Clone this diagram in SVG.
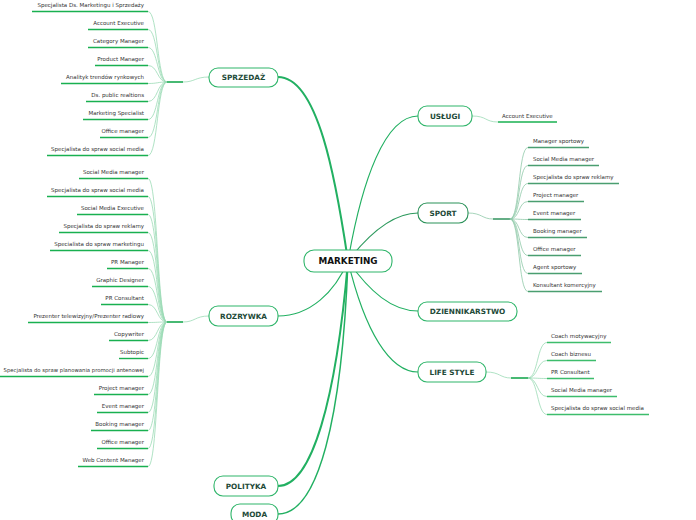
<svg xmlns="http://www.w3.org/2000/svg" width="696" height="520" viewBox="0 0 696 520">
<style>
.node{fill:#fff;stroke:#2fb56a;stroke-width:1.1}
.nt{font-family:"DejaVu Sans",Verdana,sans-serif;font-weight:bold;font-size:7.3px;fill:#1e4a38;text-anchor:middle}
.root{font-family:"DejaVu Sans",Verdana,sans-serif;font-weight:bold;font-size:8.8px;fill:#111;text-anchor:middle}
.lt{font-family:"DejaVu Sans",Verdana,sans-serif;font-size:5.5px;fill:#333}
.r{text-anchor:end}
.ul{stroke:#19b050;stroke-width:1.4;fill:none}
.uls{stroke:#4a9e70;stroke-width:1.4;fill:none}
.ull{stroke:#3dbd6c;stroke-width:1.4;fill:none}
.br{stroke:#9adbb5;stroke-width:0.8;fill:none}
.brs{stroke:#8fc9a8;stroke-width:0.8;fill:none}
.hub{stroke:#19a850;stroke-width:1.6;fill:none}
.hubs{stroke:#3f9a68;stroke-width:1.6;fill:none}
.main{stroke:#22b062;fill:none}
</style>
<g id="connectors">
<path class="main" stroke-width="2" d="M348,261 C336,180 318,77 278,77"/>
<path class="main" stroke-width="1.1" d="M348,261 C335,292 310,316 278,316"/>
<path class="main" stroke-width="2" d="M348,261 C336,400 312,486 278,486"/>
<path class="main" stroke-width="1.5" d="M348,261 C342,420 318,514 278,514"/>
<path class="main" stroke-width="1.2" d="M348,261 C362,180 385,116 418,116"/>
<path stroke="#2e9a5e" fill="none" stroke-width="1.2" d="M348,261 C372,230 395,213 418,213"/>
<path class="main" stroke-width="1.1" d="M348,261 C370,292 392,311 418,311"/>
<path class="main" stroke-width="1.1" d="M348,261 C365,332 390,372 418,372"/>
<!-- SPRZEDAZ -->
<path class="br" d="M209,77 C195,77 195,82 183,82"/>
<path class="hub" d="M167,82 H183"/>
<path class="br" d="M167,82 C157,82 158,11.5 148,11.5"/>
<path class="br" d="M167,82 C157,82 158,29.5 148,29.5"/>
<path class="br" d="M167,82 C157,82 158,47.5 148,47.5"/>
<path class="br" d="M167,82 C157,82 158,65.5 148,65.5"/>
<path class="br" d="M167,82 C157,82 158,83.5 148,83.5"/>
<path class="br" d="M167,82 C157,82 158,101.5 148,101.5"/>
<path class="br" d="M167,82 C157,82 158,119.5 148,119.5"/>
<path class="br" d="M167,82 C157,82 158,137.5 148,137.5"/>
<path class="br" d="M167,82 C157,82 158,155.5 148,155.5"/>
<!-- ROZRYWKA -->
<path class="br" d="M209,316 C195,316 195,322 183,322"/>
<path class="hub" d="M167,322 H183"/>
<path class="br" d="M167,322 C157,322 158,178.5 148,178.5"/>
<path class="br" d="M167,322 C157,322 158,196.5 148,196.5"/>
<path class="br" d="M167,322 C157,322 158,214.5 148,214.5"/>
<path class="br" d="M167,322 C157,322 158,232.5 148,232.5"/>
<path class="br" d="M167,322 C157,322 158,250.5 148,250.5"/>
<path class="br" d="M167,322 C157,322 158,268.5 148,268.5"/>
<path class="br" d="M167,322 C157,322 158,286.5 148,286.5"/>
<path class="br" d="M167,322 C157,322 158,304.5 148,304.5"/>
<path class="br" d="M167,322 C157,322 158,322.5 148,322.5"/>
<path class="br" d="M167,322 C157,322 158,340.5 148,340.5"/>
<path class="br" d="M167,322 C157,322 158,358.5 148,358.5"/>
<path class="br" d="M167,322 C157,322 158,376.5 148,376.5"/>
<path class="br" d="M167,322 C157,322 158,394.5 148,394.5"/>
<path class="br" d="M167,322 C157,322 158,412.5 148,412.5"/>
<path class="br" d="M167,322 C157,322 158,430.5 148,430.5"/>
<path class="br" d="M167,322 C157,322 158,448.5 148,448.5"/>
<path class="br" d="M167,322 C157,322 158,466.5 148,466.5"/>
<!-- USLUGI -->
<path class="br" d="M472,116 C487,116 485,122 498,122"/>
<!-- SPORT -->
<path class="brs" d="M468,213 C482,213 482,219 493,219"/>
<path class="hubs" d="M493,219 H510"/>
<path class="brs" d="M510,219 C520,219 518,147.5 528,147.5"/>
<path class="brs" d="M510,219 C520,219 518,165.5 528,165.5"/>
<path class="brs" d="M510,219 C520,219 518,183.5 528,183.5"/>
<path class="brs" d="M510,219 C520,219 518,201.5 528,201.5"/>
<path class="brs" d="M510,219 C520,219 518,219.5 528,219.5"/>
<path class="brs" d="M510,219 C520,219 518,237.5 528,237.5"/>
<path class="brs" d="M510,219 C520,219 518,255.5 528,255.5"/>
<path class="brs" d="M510,219 C520,219 518,273.5 528,273.5"/>
<path class="brs" d="M510,219 C520,219 518,291.5 528,291.5"/>
<!-- LIFE STYLE -->
<path class="br" d="M486,372 C500,372 500,378 511,378"/>
<path class="hub" d="M511,378 H528"/>
<path class="br" d="M528,378 C538,378 537,342.5 547,342.5"/>
<path class="br" d="M528,378 C538,378 537,360.5 547,360.5"/>
<path class="br" d="M528,378 C538,378 537,378.5 547,378.5"/>
<path class="br" d="M528,378 C538,378 537,396.5 547,396.5"/>
<path class="br" d="M528,378 C538,378 537,414.5 547,414.5"/>
</g>
<g id="marketing"><rect class="node" x="304" y="250" width="88" height="22" rx="10"/><text class="root" x="348" y="264.2">MARKETING</text></g>
<g id="sprzedaz"><rect class="node" x="209" y="68" width="69" height="19" rx="9"/><text class="nt" x="243.5" y="80.2">SPRZEDAŻ</text></g>
<g id="rozrywka"><rect class="node" x="209" y="306" width="69" height="20" rx="9"/><text class="nt" x="243.5" y="318.7">ROZRYWKA</text></g>
<g id="polityka"><rect class="node" x="214" y="476" width="64" height="20" rx="9"/><text class="nt" x="246" y="488.7">POLITYKA</text></g>
<g id="moda"><rect class="node" x="231" y="504" width="47" height="20" rx="9"/><text class="nt" x="254.5" y="516.7">MODA</text></g>
<g id="uslugi"><rect class="node" x="418" y="106" width="54" height="20" rx="9"/><text class="nt" x="445" y="118.7">USŁUGI</text></g>
<g id="sport"><rect class="node" x="418" y="203" width="50" height="20" rx="9" style="stroke:#2a9158"/><text class="nt" x="443" y="215.7">SPORT</text></g>
<g id="dziennikarstwo"><rect class="node" x="418" y="302" width="99" height="19" rx="9"/><text class="nt" x="467.5" y="314.2">DZIENNIKARSTWO</text></g>
<g id="lifestyle"><rect class="node" x="418" y="362" width="68" height="20" rx="9"/><text class="nt" x="452" y="374.7">LIFE STYLE</text></g>
<g id="sprzedaz-leaves">
<g><path class="ul" d="M32,11.5 H148"/><text class="lt r" x="144" y="7">Specjalista Ds. Marketingu i Sprzedaży</text></g>
<g><path class="ul" d="M88,29.5 H148"/><text class="lt r" x="144" y="25">Account Executive</text></g>
<g><path class="ul" d="M88,47.5 H148"/><text class="lt r" x="144" y="43">Category Manager</text></g>
<g><path class="ul" d="M95,65.5 H148"/><text class="lt r" x="144" y="61">Product Manager</text></g>
<g><path class="ul" d="M61,83.5 H148"/><text class="lt r" x="144" y="79">Analityk trendów rynkowych</text></g>
<g><path class="ul" d="M86,101.5 H148"/><text class="lt r" x="144" y="97">Ds. public realtions</text></g>
<g><path class="ul" d="M83,119.5 H148"/><text class="lt r" x="144" y="115">Marketing Specialist</text></g>
<g><path class="ul" d="M100,137.5 H148"/><text class="lt r" x="144" y="133">Office manager</text></g>
<g><path class="ul" d="M47,155.5 H148"/><text class="lt r" x="144" y="151">Specjalista do spraw social media</text></g>
</g>
<g id="rozrywka-leaves">
<g><path class="ul" d="M79,178.5 H148"/><text class="lt r" x="144" y="174">Social Media manager</text></g>
<g><path class="ul" d="M47,196.5 H148"/><text class="lt r" x="144" y="192">Specjalista do spraw social media</text></g>
<g><path class="ul" d="M77,214.5 H148"/><text class="lt r" x="144" y="210">Social Media Executive</text></g>
<g><path class="ul" d="M59,232.5 H148"/><text class="lt r" x="144" y="228">Specjalista do spraw reklamy</text></g>
<g><path class="ul" d="M50,250.5 H148"/><text class="lt r" x="144" y="246">Specialista do spraw marketingu</text></g>
<g><path class="ul" d="M107,268.5 H148"/><text class="lt r" x="144" y="264">PR Manager</text></g>
<g><path class="ul" d="M92,286.5 H148"/><text class="lt r" x="144" y="282">Graphic Designer</text></g>
<g><path class="ul" d="M101,304.5 H148"/><text class="lt r" x="144" y="300">PR Consultant</text></g>
<g><path class="ul" d="M28,322.5 H148"/><text class="lt r" x="144" y="318">Prezenter telewizyjny/Prezenter radiowy</text></g>
<g><path class="ul" d="M109,340.5 H148"/><text class="lt r" x="144" y="336">Copywriter</text></g>
<g><path class="ul" d="M119,358.5 H148"/><text class="lt r" x="144" y="354">Subtopic</text></g>
<g><path class="ul" d="M0,376.5 H148"/><text class="lt r" x="144" y="372" style="font-size:5.3px">Specjalista do spraw planowania promocji antenowej</text></g>
<g><path class="ul" d="M94,394.5 H148"/><text class="lt r" x="144" y="390">Project manager</text></g>
<g><path class="ul" d="M97,412.5 H148"/><text class="lt r" x="144" y="408">Event manager</text></g>
<g><path class="ul" d="M91,430.5 H148"/><text class="lt r" x="144" y="426">Booking manager</text></g>
<g><path class="ul" d="M97,448.5 H148"/><text class="lt r" x="144" y="444">Office manager</text></g>
<g><path class="ul" d="M78,466.5 H148"/><text class="lt r" x="144" y="462">Web Content Manager</text></g>
</g>
<g id="uslugi-leaves">
<g><path class="ul" d="M498,122 H557"/><text class="lt" x="502" y="118">Account Executive</text></g>
</g>
<g id="sport-leaves">
<g><path class="uls" d="M528,147.5 H589"/><text class="lt" x="533" y="143">Manager sportowy</text></g>
<g><path class="uls" d="M528,165.5 H599"/><text class="lt" x="533" y="161">Social Media manager</text></g>
<g><path class="uls" d="M528,183.5 H619"/><text class="lt" x="533" y="179">Specjalista do spraw reklamy</text></g>
<g><path class="uls" d="M528,201.5 H584"/><text class="lt" x="533" y="197">Project manager</text></g>
<g><path class="uls" d="M528,219.5 H581"/><text class="lt" x="533" y="215">Event manager</text></g>
<g><path class="uls" d="M528,237.5 H587"/><text class="lt" x="533" y="233">Booking manager</text></g>
<g><path class="uls" d="M528,255.5 H581"/><text class="lt" x="533" y="251">Office manager</text></g>
<g><path class="uls" d="M528,273.5 H582"/><text class="lt" x="533" y="269">Agent sportowy</text></g>
<g><path class="uls" d="M528,291.5 H602"/><text class="lt" x="533" y="287">Konsultant komercyjny</text></g>
</g>
<g id="lifestyle-leaves">
<g><path class="ull" d="M547,342.5 H611"/><text class="lt" x="551" y="338">Coach motywacyjny</text></g>
<g><path class="ull" d="M547,360.5 H596"/><text class="lt" x="551" y="356">Coach biznesu</text></g>
<g><path class="ull" d="M547,378.5 H594"/><text class="lt" x="551" y="374">PR Consultant</text></g>
<g><path class="ull" d="M547,396.5 H617"/><text class="lt" x="551" y="392">Social Media manager</text></g>
<g><path class="ull" d="M547,414.5 H649"/><text class="lt" x="551" y="410">Specjalista do spraw social media</text></g>
</g>
</svg>
